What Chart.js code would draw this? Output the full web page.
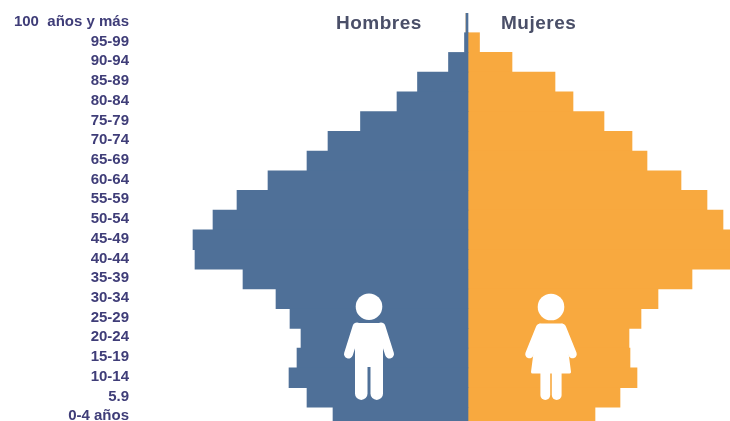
<!DOCTYPE html>
<html>
<head>
<meta charset="utf-8">
<title>Pirámide de población</title>
<script src="https://cdn.jsdelivr.net/npm/chart.js@4"></script>
<style>
  html, body { margin: 0; padding: 0; background: #fff; overflow: hidden; }
  #wrap { width: 730px; height: 421px; overflow: hidden; }
  canvas { display: block; }
</style>
</head>
<body>
<div id="wrap"><canvas id="pyramid" width="730" height="427"></canvas></div>
<script>
const ageGroups = ['100  años y más', '95-99', '90-94', '85-89', '80-84', '75-79', '70-74', '65-69', '60-64', '55-59',
  '50-54', '45-49', '40-44', '35-39', '30-34', '25-29', '20-24', '15-19', '10-14', '5.9', '0-4 años'];
const hombres = [-2, -3.5, -19.5, -50.5, -71, -107.5, -140, -161, -200, -231,
  -255, -275, -273, -225, -192, -178, -167, -171, -179, -161, -135];
const mujeres = [0, 11.5, 44, 87, 105, 136, 164, 179, 213, 239,
  255, 262, 264, 224, 190, 173, 161, 162, 169, 152, 127];

const azul = '#4f7098';
const naranja = '#f8a93f';

// Round ended white line, used for the limbs of the figures
function limb(ctx, x1, y1, x2, y2, w) {
  ctx.lineWidth = w;
  ctx.beginPath();
  ctx.moveTo(x1, y1);
  ctx.lineTo(x2, y2);
  ctx.stroke();
}

function drawMan(ctx, cx) {
  ctx.beginPath();
  ctx.arc(cx, 306.7, 13.3, 0, Math.PI * 2);
  ctx.fill();
  // torso
  ctx.fillRect(cx - 14, 323, 28, 44);
  // arms
  limb(ctx, cx - 12, 327, cx - 20.5, 354, 9);
  limb(ctx, cx + 12, 327, cx + 20.5, 354, 9);
  // legs
  limb(ctx, cx - 7.75, 360, cx - 7.75, 393.7, 12.5);
  limb(ctx, cx + 7.75, 360, cx + 7.75, 393.7, 12.5);
}

function drawWoman(ctx, cx) {
  ctx.beginPath();
  ctx.arc(cx, 307, 13.3, 0, Math.PI * 2);
  ctx.fill();
  // dress
  ctx.beginPath();
  ctx.moveTo(cx - 11, 325);
  ctx.lineTo(cx + 11, 325);
  ctx.lineTo(cx + 13, 330);
  ctx.lineTo(cx + 18.5, 372);
  ctx.lineTo(cx - 18.5, 372);
  ctx.lineTo(cx - 13, 330);
  ctx.closePath();
  ctx.fill();
  ctx.lineWidth = 3;
  ctx.stroke();
  // arms
  limb(ctx, cx - 11, 328, cx - 21.5, 354, 8.5);
  limb(ctx, cx + 11, 328, cx + 21.5, 354, 8.5);
  // legs
  limb(ctx, cx - 5.7, 370, cx - 5.7, 395, 9.8);
  limb(ctx, cx + 5.7, 370, cx + 5.7, 395, 9.8);
}

// Titles and the two white figures on top of the bars
const extras = {
  id: 'extras',
  afterDraw(chart) {
    const ctx = chart.ctx;
    ctx.save();
    ctx.font = 'bold 19px "Liberation Sans"';
    ctx.letterSpacing = '0.5px';
    ctx.fillStyle = '#4a4f68';
    ctx.textBaseline = 'middle';
    ctx.textAlign = 'left';
    ctx.fillText('Hombres', 336, 24);
    ctx.fillText('Mujeres', 501, 24);
    ctx.fillStyle = '#fff';
    ctx.strokeStyle = '#fff';
    ctx.lineCap = 'round';
    ctx.lineJoin = 'round';
    drawMan(ctx, 369);
    drawWoman(ctx, 551);
    ctx.restore();
  }
};

new Chart(document.getElementById('pyramid'), {
  type: 'bar',
  data: {
    labels: ageGroups,
    datasets: [
      { label: 'Hombres', data: hombres, backgroundColor: azul },
      { label: 'Mujeres', data: mujeres, backgroundColor: naranja }
    ]
  },
  options: {
    indexAxis: 'y',
    responsive: false,
    animation: false,
    layout: { padding: { top: 13, right: 0, bottom: 0, left: 0 } },
    datasets: { bar: { categoryPercentage: 1, barPercentage: 1 } },
    plugins: { legend: { display: false }, tooltip: { enabled: false } },
    scales: {
      x: { stacked: true, display: false, min: -335, max: 262 },
      y: {
        stacked: true,
        border: { display: false },
        grid: { display: false, drawTicks: false },
        // fixed label column, and no extra room above and below the labels
        afterFit(scale) {
          scale.width = 133;
          scale.paddingTop = 0;
          scale.paddingBottom = 0;
        },
        ticks: {
          autoSkip: false,
          padding: 4,
          labelOffset: -1,
          color: '#3f3d78',
          font: { family: '"Liberation Sans"', size: 15, weight: 'bold' }
        }
      }
    }
  },
  plugins: [extras]
});
</script>
</body>
</html>
